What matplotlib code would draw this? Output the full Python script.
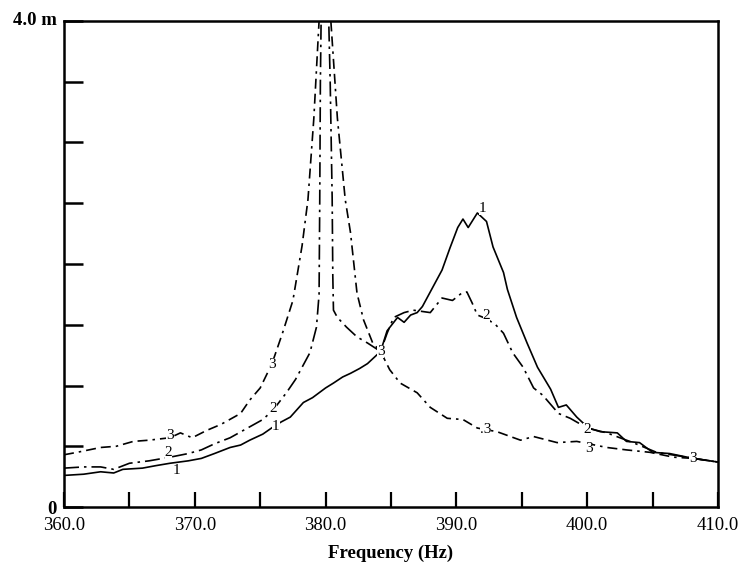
import matplotlib.pyplot as plt
import numpy as np

plt.rcParams['font.family'] = ['Liberation Serif', 'DejaVu Serif']

# curve 1 (solid)
freq_1 = [360.0, 361.5, 362.8, 363.8, 364.5, 366.0, 367.0, 368.1, 369.5, 370.5,
          371.5, 372.7, 373.5, 374.2, 375.2, 376.0, 376.6, 377.3, 378.3, 379.0,
          380.0, 380.6, 381.3, 381.9, 382.6, 383.2, 384.2, 384.7, 385.5, 386.0,
          386.5, 387.0, 387.4, 388.2, 388.9, 389.5, 390.1, 390.5, 390.9, 391.6,
          392.3, 392.8, 393.6, 393.9, 394.6, 395.4, 396.2, 397.2, 397.8, 398.4,
          399.2, 400.1, 401.0, 402.3, 403.0, 404.0, 405.0, 406.3, 408.1, 410.0]
amp_1 = [0.26, 0.27, 0.29, 0.28, 0.31, 0.32, 0.34, 0.36, 0.38, 0.40,
         0.44, 0.49, 0.51, 0.55, 0.60, 0.66, 0.70, 0.74, 0.86, 0.90,
         0.98, 1.02, 1.07, 1.10, 1.14, 1.18, 1.28, 1.45, 1.56, 1.52,
         1.58, 1.60, 1.65, 1.81, 1.95, 2.13, 2.30, 2.37, 2.30, 2.42,
         2.35, 2.14, 1.93, 1.79, 1.56, 1.35, 1.15, 0.97, 0.82, 0.84,
         0.74, 0.65, 0.62, 0.61, 0.54, 0.53, 0.45, 0.44, 0.40, 0.37]

# curve 2 (dash-dot)
freq_2 = [360.0, 361.5, 362.8, 363.8, 365.0, 366.5, 368.1, 369.5, 370.5, 371.5,
          372.7, 374.2, 375.2, 376.0, 377.0, 377.7, 378.3, 378.8, 379.3, 379.5,
          379.55, 379.6, 379.7, 379.9, 380.15, 380.35, 380.5, 380.55, 380.6, 380.9,
          381.6, 382.4, 383.2, 384.2, 384.7, 385.2, 386.0, 386.7, 388.0, 388.9,
          389.7, 390.4, 390.8, 391.2, 391.6, 392.3, 393.0, 393.6, 394.3, 395.1,
          395.9, 396.6, 397.8, 398.7, 400.0, 401.5, 403.5, 405.3, 407.6, 410.0]
amp_2 = [0.32, 0.33, 0.33, 0.31, 0.36, 0.38, 0.41, 0.44, 0.47, 0.52,
         0.57, 0.66, 0.72, 0.80, 0.94, 1.05, 1.17, 1.27, 1.48, 1.75,
         2.50, 3.50, 4.40, 4.70, 4.40, 3.50, 2.55, 1.90, 1.62, 1.56,
         1.48, 1.40, 1.35, 1.28, 1.43, 1.56, 1.60, 1.62, 1.60, 1.72,
         1.70, 1.76, 1.77, 1.68, 1.58, 1.55, 1.50, 1.43, 1.27, 1.15,
         0.98, 0.92, 0.77, 0.73, 0.65, 0.61, 0.53, 0.45, 0.41, 0.37]

# curve 3 (dashed)
freq_3 = [360.0, 361.0, 362.8, 364.0, 365.3, 366.5, 368.1, 368.9, 369.8, 370.9,
          372.0, 373.5, 374.2, 375.0, 375.9, 376.7, 377.5, 378.2, 378.65, 379.1,
          379.5, 379.95, 380.4, 380.9, 381.5, 381.9, 382.4, 382.9, 383.6, 384.2,
          384.9, 385.7, 387.0, 388.0, 389.3, 390.5, 391.6, 393.1, 394.9, 395.9,
          397.7, 399.2, 401.5, 403.0, 404.8, 406.6, 408.1, 410.0]
amp_3 = [0.43, 0.45, 0.49, 0.50, 0.54, 0.55, 0.57, 0.61, 0.57, 0.63,
         0.68, 0.77, 0.88, 0.98, 1.18, 1.43, 1.70, 2.15, 2.53, 3.20,
         4.00, 4.80, 4.00, 3.20, 2.53, 2.26, 1.76, 1.54, 1.35, 1.28,
         1.13, 1.02, 0.94, 0.82, 0.73, 0.72, 0.65, 0.62, 0.55, 0.58,
         0.53, 0.54, 0.49, 0.47, 0.45, 0.41, 0.40, 0.37]

# curve number labels: (text, freq, amplitude)
curve_labels = [('3', 368.1, 0.59), ('2', 368.0, 0.45), ('1', 368.6, 0.30),
                ('3', 375.9, 1.17), ('2', 376.0, 0.81), ('1', 376.2, 0.66),
                ('1', 392.0, 2.46), ('2', 392.3, 1.58), ('.3', 392.2, 0.64),
                ('3', 400.1, 0.48), ('2', 400.0, 0.64), ('3', 384.2, 1.28),
                ('3', 408.1, 0.40)]

x_ticks = [360, 370, 380, 390, 400, 410]
x_tick_labels = ['360.0', '370.0', '380.0', '390.0', '400.0', '410.0']

fig = plt.figure(figsize=(7.46, 5.67), dpi=100)
ax = fig.add_axes([0.0858, 0.1058, 0.9625 - 0.0858, 0.963 - 0.1058])

lw = 1.2
ax.plot(freq_1, amp_1, color='black', lw=lw, ls='-')
ax.plot(freq_2, amp_2, color='black', lw=lw, ls=(0, (9, 3, 1.5, 3)))
ax.plot(freq_3, amp_3, color='black', lw=lw, ls=(0, (6, 3, 1.5, 3, 6, 3)))

for txt, fx, fy in curve_labels:
    ax.text(fx, fy, txt, fontsize=11, ha='center', va='center',
            bbox=dict(facecolor='white', edgecolor='none', pad=0.0))

ax.set_xlim(360, 410)
ax.set_ylim(0, 4.0)

ax.set_xticks(x_ticks)
ax.set_xticklabels(x_tick_labels, fontsize=13.5)
ax.set_xticks(np.arange(365, 410, 10), minor=True)
ax.tick_params(axis='x', which='both', direction='in', length=11, width=1.6, pad=7)

y_ticks = np.arange(0, 4.01, 0.5)
ax.set_yticks(y_ticks)
ax.set_yticklabels(['0'] + [''] * 7 + ['4.0 m'], fontsize=13.5, fontweight='bold')
ax.tick_params(axis='y', direction='in', length=14, width=1.8, pad=5)
ax.get_yticklabels()[-1].set_va('center')

for s in ax.spines.values():
    s.set_linewidth(1.8)

ax.set_xlabel('Frequency (Hz)', fontsize=13.5, fontweight='bold', labelpad=8)

fig.savefig('out.png', dpi=100)
